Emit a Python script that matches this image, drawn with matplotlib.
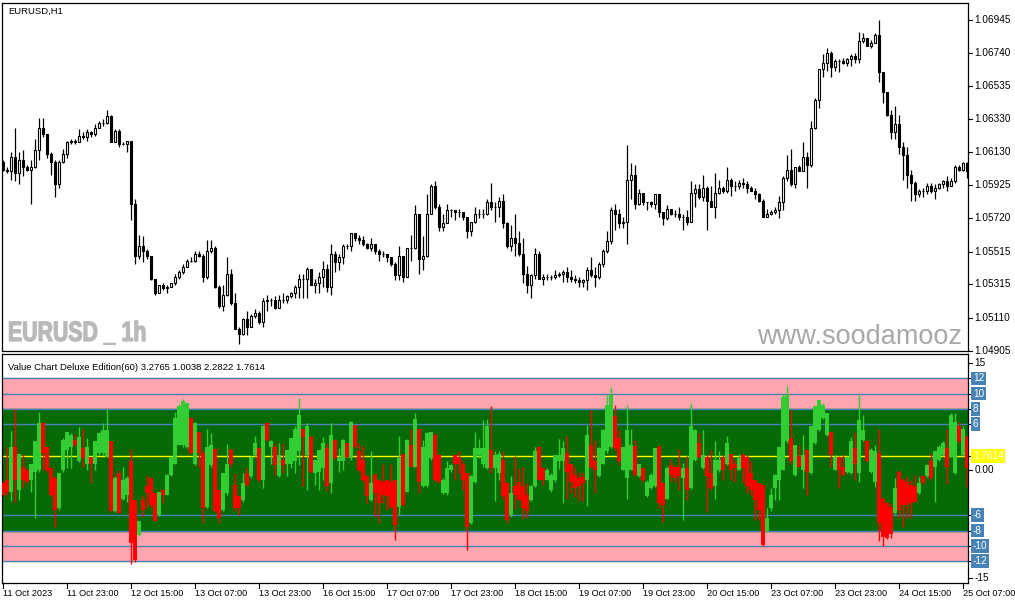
#!/usr/bin/env python3
"""
EURUSD H1 candles with the Value Chart Deluxe indicator underneath (MT4 look).
"""

import matplotlib

matplotlib.use("Agg")
import matplotlib.pyplot as plt
import matplotlib.transforms as mtransforms
import numpy as np
from matplotlib.font_manager import FontProperties
from matplotlib.patches import PathPatch
from matplotlib.textpath import TextPath

# ---- price bars, 11 Oct 07:00 -> 25 Oct 08:00 (open = previous close) ----
first_open = 1.0607

close = [
    1.0602, 1.0601, 1.0610, 1.0600, 1.0608, 1.0604, 1.0602, 1.0604, 1.0614, 1.0628,
    1.0624, 1.0612, 1.0607, 1.0593, 1.0607, 1.0612, 1.0619, 1.0620, 1.0619, 1.0623,
    1.0622, 1.0625, 1.0624, 1.0628, 1.0631, 1.0631, 1.0635, 1.0619, 1.0626, 1.0618,
    1.0618, 1.0620, 1.0581, 1.0549, 1.0555, 1.0552, 1.0549, 1.0535, 1.0526, 1.0531,
    1.0529, 1.0530, 1.0532, 1.0536, 1.0539, 1.0542, 1.0546, 1.0546, 1.0550, 1.0549,
    1.0536, 1.0552, 1.0554, 1.0530, 1.0518, 1.0525, 1.0538, 1.0520, 1.0504, 1.0501,
    1.0510,
    1.0505, 1.0512, 1.0514, 1.0508, 1.0521, 1.0522, 1.0522, 1.0517, 1.0522, 1.0522,
    1.0524, 1.0526, 1.0530, 1.0535, 1.0535, 1.0541, 1.0531, 1.0532, 1.0536, 1.0541,
    1.0530, 1.0550, 1.0545, 1.0548, 1.0555, 1.0555, 1.0563, 1.0560, 1.0559, 1.0556,
    1.0554, 1.0556, 1.0552, 1.0550, 1.0550, 1.0548, 1.0544, 1.0537, 1.0549, 1.0536,
    1.0554, 1.0554, 1.0575, 1.0547, 1.0549, 1.0575, 1.0592, 1.0579, 1.0567, 1.0569,
    1.0577, 1.0577, 1.0576, 1.0576, 1.0573, 1.0564, 1.0570, 1.0575, 1.0575, 1.0575,
    1.0582, 1.0579, 1.0579, 1.0583, 1.0569, 1.0555, 1.0560, 1.0557, 1.0550, 1.0538,
    1.0531, 1.0537, 1.0550, 1.0535, 1.0536, 1.0536, 1.0536, 1.0537, 1.0538, 1.0539,
    1.0536, 1.0535, 1.0534, 1.0533, 1.0534, 1.0540, 1.0537, 1.0536, 1.0544, 1.0552,
    1.0558, 1.0577, 1.0575, 1.0569, 1.0570, 1.0596, 1.0599, 1.0581, 1.0588, 1.0582,
    1.0582, 1.0581, 1.0587, 1.0576, 1.0572, 1.0578, 1.0575, 1.0575, 1.0573, 1.0573,
    1.0570, 1.0588, 1.0590, 1.0585, 1.0591, 1.0583, 1.0579, 1.0588, 1.0591, 1.0589,
    1.0596, 1.0592, 1.0592, 1.0594, 1.0593, 1.0591, 1.0589, 1.0587, 1.0583, 1.0573,
    1.0575, 1.0576, 1.0577, 1.0582, 1.0597, 1.0602, 1.0593, 1.0604, 1.0601, 1.0610,
    1.0605, 1.0628, 1.0645, 1.0664, 1.0668, 1.0674, 1.0665, 1.0669, 1.0669, 1.0668,
    1.0670, 1.0672, 1.0670, 1.0681, 1.0683, 1.0678, 1.0680, 1.0685, 1.0662, 1.0650,
    1.0636, 1.0625, 1.0630, 1.0616, 1.0611, 1.0599, 1.0594, 1.0587, 1.0589, 1.0589,
    1.0592, 1.0589, 1.0591, 1.0593, 1.0595, 1.0592, 1.0595, 1.0604, 1.0602, 1.0606,
    1.0601,
]

high = [
    1.0608, 1.0604, 1.0613, 1.0628, 1.0613, 1.0614, 1.0605, 1.0608, 1.0621, 1.0634,
    1.0634, 1.0624, 1.0613, 1.0608, 1.0608, 1.0615, 1.0620, 1.0621, 1.0621, 1.0627,
    1.0625, 1.0627, 1.0626, 1.0630, 1.0632, 1.0633, 1.0639, 1.0636, 1.0627, 1.0627,
    1.0619, 1.0620, 1.0620, 1.0584, 1.0562, 1.0561, 1.0553, 1.0549, 1.0535, 1.0531,
    1.0532, 1.0531, 1.0532, 1.0538, 1.0540, 1.0544, 1.0547, 1.0548, 1.0552, 1.0552,
    1.0550, 1.0559, 1.0559, 1.0555, 1.0531, 1.0531, 1.0548, 1.0541, 1.0526, 1.0505,
    1.0511,
    1.0515, 1.0513, 1.0516, 1.0515, 1.0523, 1.0525, 1.0523, 1.0524, 1.0525, 1.0526,
    1.0525, 1.0527, 1.0531, 1.0538, 1.0538, 1.0542, 1.0541, 1.0535, 1.0539, 1.0546,
    1.0544, 1.0556, 1.0552, 1.0550, 1.0556, 1.0556, 1.0563, 1.0563, 1.0562, 1.0561,
    1.0557, 1.0560, 1.0556, 1.0553, 1.0552, 1.0550, 1.0548, 1.0545, 1.0555, 1.0549,
    1.0554, 1.0562, 1.0580, 1.0575, 1.0561, 1.0587, 1.0593, 1.0595, 1.0581, 1.0575,
    1.0581, 1.0578, 1.0577, 1.0578, 1.0576, 1.0573, 1.0570, 1.0579, 1.0578, 1.0578,
    1.0584, 1.0594, 1.0582, 1.0585, 1.0587, 1.0570, 1.0568, 1.0575, 1.0564, 1.0560,
    1.0543, 1.0538, 1.0554, 1.0552, 1.0538, 1.0538, 1.0537, 1.0540, 1.0539, 1.0540,
    1.0542, 1.0540, 1.0537, 1.0536, 1.0535, 1.0542, 1.0548, 1.0542, 1.0545, 1.0553,
    1.0564, 1.0579, 1.0581, 1.0578, 1.0573, 1.0617, 1.0606, 1.0605, 1.0590, 1.0588,
    1.0582, 1.0583, 1.0587, 1.0587, 1.0576, 1.0580, 1.0578, 1.0577, 1.0579, 1.0575,
    1.0577, 1.0595, 1.0593, 1.0593, 1.0599, 1.0592, 1.0592, 1.0600, 1.0596, 1.0592,
    1.0604, 1.0597, 1.0595, 1.0596, 1.0597, 1.0595, 1.0592, 1.0591, 1.0588, 1.0584,
    1.0578, 1.0577, 1.0579, 1.0586, 1.0598, 1.0611, 1.0615, 1.0604, 1.0605, 1.0619,
    1.0613, 1.0632, 1.0646, 1.0664, 1.0673, 1.0677, 1.0675, 1.0670, 1.0670, 1.0671,
    1.0671, 1.0673, 1.0674, 1.0687, 1.0686, 1.0683, 1.0682, 1.0686, 1.0694, 1.0662,
    1.0650, 1.0639, 1.0641, 1.0636, 1.0619, 1.0616, 1.0602, 1.0595, 1.0590, 1.0591,
    1.0594, 1.0594, 1.0593, 1.0594, 1.0596, 1.0598, 1.0597, 1.0605, 1.0605, 1.0607,
    1.0607,
]

low = [
    1.0601, 1.0600, 1.0596, 1.0595, 1.0593, 1.0598, 1.0601, 1.0581, 1.0603, 1.0608,
    1.0622, 1.0609, 1.0599, 1.0585, 1.0591, 1.0606, 1.0609, 1.0618, 1.0618, 1.0619,
    1.0621, 1.0620, 1.0622, 1.0623, 1.0628, 1.0629, 1.0630, 1.0619, 1.0619, 1.0616,
    1.0617, 1.0613, 1.0571, 1.0544, 1.0547, 1.0545, 1.0547, 1.0534, 1.0525, 1.0527,
    1.0528, 1.0526, 1.0530, 1.0531, 1.0535, 1.0538, 1.0542, 1.0545, 1.0545, 1.0548,
    1.0533, 1.0535, 1.0551, 1.0529, 1.0517, 1.0515, 1.0524, 1.0519, 1.0504, 1.0495,
    1.0500,
    1.0500, 1.0505, 1.0511, 1.0507, 1.0505, 1.0515, 1.0518, 1.0516, 1.0517, 1.0520,
    1.0520, 1.0523, 1.0523, 1.0523, 1.0523, 1.0523, 1.0531, 1.0526, 1.0526, 1.0530,
    1.0527, 1.0525, 1.0539, 1.0540, 1.0544, 1.0553, 1.0552, 1.0558, 1.0556, 1.0555,
    1.0553, 1.0552, 1.0550, 1.0546, 1.0548, 1.0545, 1.0543, 1.0534, 1.0534, 1.0533,
    1.0536, 1.0546, 1.0553, 1.0538, 1.0540, 1.0548, 1.0575, 1.0578, 1.0564, 1.0564,
    1.0569, 1.0573, 1.0571, 1.0573, 1.0571, 1.0560, 1.0561, 1.0569, 1.0572, 1.0572,
    1.0574, 1.0577, 1.0570, 1.0573, 1.0566, 1.0554, 1.0552, 1.0549, 1.0549, 1.0532,
    1.0526, 1.0523, 1.0535, 1.0535, 1.0531, 1.0534, 1.0534, 1.0535, 1.0536, 1.0533,
    1.0533, 1.0533, 1.0532, 1.0530, 1.0530, 1.0528, 1.0536, 1.0530, 1.0535, 1.0542,
    1.0551, 1.0556, 1.0565, 1.0566, 1.0566, 1.0556, 1.0584, 1.0578, 1.0580, 1.0580,
    1.0577, 1.0579, 1.0578, 1.0573, 1.0568, 1.0571, 1.0574, 1.0573, 1.0571, 1.0565,
    1.0568, 1.0570, 1.0579, 1.0584, 1.0583, 1.0565, 1.0579, 1.0572, 1.0587, 1.0588,
    1.0588, 1.0586, 1.0589, 1.0590, 1.0591, 1.0588, 1.0589, 1.0584, 1.0582, 1.0573,
    1.0573, 1.0574, 1.0575, 1.0572, 1.0577, 1.0595, 1.0592, 1.0591, 1.0601, 1.0601,
    1.0591, 1.0604, 1.0627, 1.0640, 1.0659, 1.0663, 1.0659, 1.0663, 1.0662, 1.0667,
    1.0666, 1.0666, 1.0668, 1.0668, 1.0680, 1.0678, 1.0677, 1.0680, 1.0656, 1.0643,
    1.0635, 1.0621, 1.0621, 1.0612, 1.0596, 1.0591, 1.0583, 1.0583, 1.0585, 1.0585,
    1.0587, 1.0588, 1.0584, 1.0590, 1.0591, 1.0589, 1.0592, 1.0594, 1.0601, 1.0601,
    1.0597,
]

# ---- Value Chart Deluxe bars ----
vc_open = [
    -1.8, -1.3, -2.9, 3.0, -2.7, 0.4, 0.0, -1.3, -0.3, 0.0,
    6.1, 3.0, 0.2, -1.1, -5.1, 0.0, 2.6, 3.0, 3.9, 1.1,
    2.8, 0.8, 1.6, 0.8, 2.2, 2.2, 1.7, 3.7, -5.5, -0.5,
    -3.8, -3.3, 1.1, -4.0, -8.6, -4.0, -2.2, -1.1, -3.1, -6.0,
    -2.7, -3.3, -0.7, 0.8, 3.3, 3.3, 3.0, 6.8, 0.8, 4.9,
    2.2, -4.9, 0.6, 2.7, -2.7, -5.3, -3.1, 2.6, -2.0, -3.5,
    -4.0,
    -0.5, -0.9, 1.9, 2.8, -1.3, 6.1, 3.0, 3.0, -0.9, 1.3,
    0.8, 0.8, 1.1, 2.4, 5.4, 1.9, 4.3, -0.5, -0.3, 0.2,
    2.8, -1.8, 3.9, 1.1, 1.1, 3.5, 1.5, 5.9, 2.4, 1.3,
    -0.9, -4.0, -0.7, -1.3, -1.6, -1.3, -1.6, -1.3, -4.9, 2.1,
    -2.9, 3.3, 0.4, 5.3, -2.2, -2.2, 1.5, 4.6, 1.9, -3.1,
    -3.1, 0.0, 1.9, 1.7, 0.8, -0.5, -7.0, -1.6, 1.9, 0.8,
    0.2, 2.6, 0.2, -0.5, 1.3, -1.8, -6.0, -2.1, -1.6, -2.2,
    -3.3, -4.0, -2.2, 3.0, 0.2, -1.3, -2.7, -1.3, 1.1, 1.1,
    2.2, 0.8, -0.7, -1.1, -1.0, -1.3, 3.3, 1.1, -0.9, 0.8,
    2.4, 3.0, 7.0, 4.1, 0.0, -1.1, 0.0, 3.1, -0.9, 0.2,
    -3.5, -2.4, -2.2, 3.0, -1.8, -3.8, 0.6, 0.4, 0.3, -1.1,
    0.2, -2.4, 1.3, 3.5, 0.2, 1.7, -0.5, -2.2, 0.0, 1.6,
    0.8, 2.1, 0.8, 0.0, 1.9, 1.7, -0.5, -1.3, -1.8, -2.0,
    -8.1, -5.1, -2.4, -1.3, 0.0, 3.7, 4.1, -0.7, 1.8, 0.0,
    2.6, -0.5, 3.5, 5.2, 6.8, 4.6, 5.0, 0.0, 1.7, 0.4,
    -0.3, -0.5, 2.8, -0.5, 3.9, 3.7, -0.3, -1.6, 2.2, -3.8,
    -4.4, -4.9, -5.7, -0.3, -1.3, -1.6, -2.0, -2.2, -3.1, -0.9,
    -0.9, 1.1, 0.4, 1.3, 1.9, 2.8, 1.7, -0.5, 5.7, 1.9,
    4.3,
]

vc_close = [
    -3.3, -2.9, 3.0, -1.3, 2.1, -1.3, -1.6, 0.8, 3.7, 6.1,
    2.2, 0.0, -3.3, -5.3, -0.5, 3.9, 4.9, 4.6, 3.3, 4.3,
    1.5, 3.0, 0.8, 3.7, 4.8, 5.2, 5.2, -5.5, -1.1, -5.7,
    -1.3, -1.1, -9.7, -11.9, -6.8, -5.3, -3.1, -4.6, -6.8, -2.9,
    -3.3, -0.7, 1.7, 6.8, 8.3, 9.0, 8.7, 2.2, 6.1, 2.2,
    -5.1, 3.0, 3.3, -5.5, -6.4, -0.5, 0.8, 0.8, -5.1, -5.1,
    -1.8,
    -2.0, 1.7, 3.5, -1.3, 5.7, 3.9, 3.7, 0.6, 1.9, 0.6,
    2.6, 4.1, 5.4, 7.2, 4.3, 5.7, -0.3, 1.3, 2.6, 3.5,
    -2.2, 4.6, 1.5, 1.5, 3.9, 1.7, 6.3, 3.0, 0.0, -1.3,
    -3.5, -1.8, -3.1, -4.4, -3.3, -3.5, -4.9, -7.3, 1.5, -4.6,
    3.9, 0.4, 6.6, -1.6, 3.0, 4.8, 5.0, -1.3, -1.6, -1.3,
    0.2, 0.6, 0.8, 0.8, -1.3, -7.5, -0.9, 2.8, 2.8, 2.8,
    5.7, 0.2, 1.9, 2.1, -3.5, -6.6, -3.1, -3.3, -4.0, -5.1,
    -5.5, -2.2, 2.4, -1.3, -1.3, 0.0, -0.7, 1.9, 1.9, 2.8,
    -0.3, -1.6, -2.4, -2.2, -1.8, 4.6, 0.4, 0.0, 2.8, 5.2,
    8.5, 9.8, 2.8, 1.1, 3.0, 5.2, 3.3, -0.7, 0.8, -1.3,
    -1.6, -0.7, 2.8, -4.4, -4.6, 0.2, -0.7, -1.1, -0.9, 0.2,
    -2.7, 5.7, 5.2, 1.7, 1.9, -0.9, -2.4, 1.3, 1.3, 0.0,
    3.5, 0.0, 0.2, 1.5, 0.2, -2.2, -2.7, -4.0, -5.3, -9.9,
    -6.4, -3.3, -0.7, 3.0, 9.6, 9.8, 1.1, 3.3, 0.4, 1.9,
    -0.3, 5.7, 8.3, 9.1, 8.5, 7.4, 1.9, 1.7, 0.0, -0.7,
    1.7, 3.7, 0.8, 6.5, 5.2, 1.1, 2.6, 2.4, -7.0, -8.8,
    -9.0, -8.4, -2.4, -5.3, -4.6, -4.6, -4.4, -4.2, -1.8, -1.8,
    0.6, -1.1, 2.4, 3.0, 3.5, 0.4, 7.2, 6.3, 3.7, 5.4,
    0.2,
]

vc_high = [
    -1.6, 3.0, 5.1, 8.0, 2.1, 2.1, 0.2, 0.8, 3.7, 7.6,
    6.3, 3.0, 0.4, -0.9, -0.4, 4.1, 5.0, 4.8, 4.7, 5.6,
    5.4, 4.1, 1.6, 3.7, 5.0, 6.1, 8.0, 3.7, -0.9, 0.0,
    0.3, -0.9, 2.7, -4.0, -6.8, -3.3, -0.7, -1.0, -3.1, -2.9,
    -2.6, -0.6, 1.8, 7.6, 8.6, 9.3, 8.8, 6.9, 6.3, 5.0,
    2.6, 5.3, 4.8, 2.8, -2.7, -0.5, 3.4, 2.8, -0.5, -3.3,
    -0.5,
    0.3, 1.8, 4.4, 3.0, 5.9, 6.2, 3.9, 3.5, 3.5, 3.5,
    2.6, 4.1, 5.7, 9.4, 5.4, 6.1, 4.4, 1.3, 2.6, 4.3,
    3.5, 6.1, 4.0, 2.8, 4.0, 3.5, 6.4, 5.9, 3.5, 3.1,
    -0.7, 2.4, -0.5, -1.3, 0.8, -1.3, 0.7, -1.3, 4.4, 2.2,
    4.0, 5.3, 7.5, 5.3, 3.9, 4.9, 5.0, 4.8, 2.1, -1.1,
    1.2, 0.8, 2.1, 2.4, 1.1, -0.4, -0.7, 5.0, 4.0, 6.5,
    6.6, 8.4, 2.5, 2.5, 2.4, -1.6, -0.9, 1.8, 0.2, 0.4,
    -1.8, -2.0, 3.0, 3.1, 0.4, 0.2, -0.5, 1.9, 4.0, 3.7,
    4.4, 0.8, 0.3, -0.3, -0.3, 5.9, 7.9, 3.9, 3.0, 5.4,
    9.8, 10.8, 8.5, 5.2, 3.0, 8.5, 5.3, 3.9, 0.8, 0.4,
    -1.3, -0.5, 2.9, 3.3, -1.6, 0.5, 1.4, 0.6, 2.7, 0.9,
    1.8, 8.7, 5.4, 4.8, 5.2, 1.9, 2.6, 3.7, 2.4, 1.9,
    4.4, 2.1, 1.3, 2.1, 2.2, 1.9, 1.1, -1.3, -1.8, -1.9,
    -5.1, -2.4, -0.6, 3.0, 10.0, 11.0, 7.9, 3.3, 3.3, 4.6,
    2.7, 5.8, 8.4, 9.2, 8.7, 7.5, 5.0, 1.9, 1.8, 1.9,
    1.8, 4.3, 5.0, 9.8, 7.2, 3.9, 2.8, 3.3, 5.4, -3.6,
    -4.2, -4.4, -1.1, 0.0, -1.1, -0.9, -1.3, -0.7, -1.0, -0.7,
    0.8, 2.2, 2.5, 3.3, 3.7, 5.4, 7.4, 7.4, 6.3, 5.7,
    4.6,
]

vc_low = [
    -3.5, -3.5, -4.1, -4.3, -4.0, -2.4, -1.8, -2.9, -6.4, -0.3,
    0.0, -0.3, -3.5, -7.5, -5.3, -0.3, 0.2, 0.2, 3.0, 1.0,
    0.3, 0.0, -1.8, 0.0, 1.9, 1.9, 1.7, -5.6, -5.6, -5.7,
    -4.0, -4.3, -12.4, -12.1, -8.7, -6.2, -5.1, -4.9, -6.8, -6.1,
    -4.4, -3.3, -0.8, 0.8, 3.3, 3.0, 2.8, 2.1, 0.6, 0.4,
    -7.0, -5.1, 0.4, -5.6, -7.0, -5.5, -3.3, 0.4, -5.5, -6.0,
    -4.2,
    -2.2, -1.1, 1.7, -1.6, -2.4, 3.8, 0.8, -0.7, -1.0, -0.5,
    -0.9, 0.2, -0.5, 0.6, -2.2, -2.7, -0.4, -2.0, -2.7, -1.3,
    -2.8, -3.1, 1.3, -0.3, 0.0, 1.5, 1.3, 2.8, -0.3, -1.6,
    -4.4, -4.1, -6.2, -7.0, -4.4, -5.3, -5.1, -9.2, -6.0, -4.8,
    -3.0, 0.3, 0.3, -3.1, -2.3, -2.3, 1.3, -1.6, -1.8, -3.2,
    -3.3, -0.3, -1.3, -0.5, -2.7, -10.5, -7.1, -1.7, 1.5, 0.3,
    0.1, -0.5, -4.1, -1.3, -3.8, -7.0, -6.2, -5.2, -4.0, -6.3,
    -6.4, -4.1, -2.3, -1.4, -2.0, -1.4, -3.0, -1.6, 0.1, -4.4,
    -3.8, -3.1, -3.6, -4.1, -4.1, -4.8, 0.2, -3.1, -1.0, 0.7,
    2.2, 2.8, 2.6, 0.6, -0.1, -3.8, -0.1, -0.9, -1.0, -1.6,
    -3.6, -2.6, -2.3, -5.1, -6.9, -3.9, -1.6, -1.6, -2.7, -6.6,
    -4.0, -2.6, 1.1, 1.5, 0.1, -5.6, -2.7, -3.8, -0.3, -1.3,
    0.6, -1.3, -1.6, -0.1, -1.6, -3.1, -3.3, -6.6, -6.6, -10.0,
    -8.2, -5.5, -4.0, -4.0, -0.1, 3.5, 0.8, -0.9, 0.3, -2.4,
    -3.3, -0.6, 3.4, 5.1, 6.6, 4.4, 0.3, -0.1, -2.4, -0.8,
    -0.5, -0.6, -1.3, -1.6, 3.8, 1.0, -0.4, -2.3, -9.4, -10.1,
    -9.1, -9.0, -5.8, -6.4, -7.6, -6.4, -6.4, -4.3, -3.2, -1.9,
    -1.0, -1.3, -4.2, 1.2, 1.8, -1.9, 1.6, -0.6, 3.5, 1.8,
    -2.3,
]

vc_last = 1.7614
vc_title = "Value Chart Deluxe Edition(60) 3.2765 1.0038 2.2822 1.7614"

price_ticks = [1.06945, 1.06740, 1.06535, 1.06330, 1.06130, 1.05925,
               1.05720, 1.05515, 1.05315, 1.05110, 1.04905]
vc_levels = [12, 10, 8, 6, -6, -8, -10, -12]

time_labels = [
    "11 Oct 2023", "11 Oct 23:00", "12 Oct 15:00", "13 Oct 07:00",
    "13 Oct 23:00", "16 Oct 15:00", "17 Oct 07:00", "17 Oct 23:00",
    "18 Oct 15:00", "19 Oct 07:00", "19 Oct 23:00", "20 Oct 15:00",
    "23 Oct 07:00", "23 Oct 23:00", "24 Oct 15:00", "25 Oct 07:00",
]
label_step = 16

FONT = ["Liberation Sans", "DejaVu Sans"]
STEEL = "#4682B4"


def right_label(ax, y, text, box=None, color="black"):
    trans = mtransforms.blended_transform_factory(ax.transAxes, ax.transData)
    ax.plot([1.0, 1.004], [y, y], color="black", lw=0.8, transform=trans, clip_on=False)
    kw = {}
    xpos = 1.007
    if box is not None:
        kw["bbox"] = dict(boxstyle="square,pad=0.18", fc=box, ec="none")
        xpos = 1.005
    ax.text(xpos, y, text, transform=trans, ha="left", va="center",
            fontsize=7.2, family=FONT, color=color, clip_on=False, **kw)


def draw_candles(ax, x, o, h, l, c):
    ax.vlines(x, l, h, color="black", lw=0.9, zorder=2)
    up = c >= o
    ax.bar(x[up], (c - o)[up], bottom=o[up], width=0.55, color="white",
           edgecolor="black", lw=0.8, zorder=3)
    ax.bar(x[~up], (c - o)[~up], bottom=o[~up], width=0.55, color="black",
           edgecolor="black", lw=0.8, zorder=3)


def draw_value_chart(ax, x, o, h, l, c):
    # bands and level lines
    ax.axhspan(8, 12, color="#FFA5AF", zorder=0)
    ax.axhspan(-12, -8, color="#FFA5AF", zorder=0)
    ax.axhspan(-8, 8, color="#066A06", zorder=0)
    for lv in vc_levels:
        ax.axhline(lv, color=STEEL, lw=1.0, zorder=1)
    ax.axhline(vc_last, color="#FFFF00", lw=1.0, zorder=1)

    up = c > o
    colors = np.where(up, "#32CD32", "#FF0000")
    ax.vlines(x, l, h, colors=colors, lw=1.0, zorder=2)
    ax.bar(x, c - o, bottom=o, width=0.95, color=colors, lw=0, zorder=3)


def add_watermark(ax):
    # condensed bold "EURUSD _ 1h" in the lower left of the price panel
    tp = TextPath((0, 0), "EURUSD _ 1h", size=28,
                  prop=FontProperties(family="Liberation Sans", weight="bold"))
    tr = mtransforms.Affine2D().scale(0.76, 1.0).translate(8, 605 - 341)
    patch = PathPatch(tp, facecolor="#B9B9B9", edgecolor="#B9B9B9", lw=0.9, zorder=1)
    patch.set_transform(tr)
    ax.add_artist(patch)


def main():
    o_c = np.array(close)
    o_h = np.array(high)
    o_l = np.array(low)
    o_o = np.concatenate([[first_open], o_c[:-1]])
    o_h = np.maximum(o_h, np.maximum(o_o, o_c))
    o_l = np.minimum(o_l, np.minimum(o_o, o_c))
    x = np.arange(1, len(o_c) + 1)

    fig = plt.figure(figsize=(10.15, 6.05), dpi=100)
    fig.patch.set_facecolor("white")
    ax = fig.add_axes([2 / 1015, (605 - 351) / 605, 966 / 1015, 348 / 605])
    axv = fig.add_axes([2 / 1015, (605 - 583) / 605, 966 / 1015, 229 / 605])

    for a in (ax, axv):
        a.set_xlim(0.75, 242.25)
        a.set_xticks([])
        a.set_yticks([])
        for s in a.spines.values():
            s.set_color("black")
            s.set_linewidth(0.9)

    # --- price panel ---
    ax.set_ylim(1.04904, 1.07047)
    draw_candles(ax, x, o_o, o_h, o_l, o_c)
    for p in price_ticks:
        right_label(ax, p, f"{p:.5f}")
    ax.text(0.006, 0.975, "EURUSD,H1", transform=ax.transAxes, ha="left", va="center",
            fontsize=6.8, family=FONT)
    add_watermark(ax)
    ax.text(0.782, 0.04, "www.soodamooz", transform=ax.transAxes, ha="left", va="center",
            fontsize=19.5, color="#A8A8A8", family=FONT, zorder=1)

    # --- indicator panel ---
    axv.set_ylim(-14.9, 15.2)
    draw_value_chart(axv, x, np.array(vc_open), np.array(vc_high),
                     np.array(vc_low), np.array(vc_close))
    right_label(axv, 14.0, "15")
    for lv in vc_levels:
        right_label(axv, lv, str(lv), box=STEEL, color="white")
    right_label(axv, vc_last, f"{vc_last:.4f}", box="#FFFF00", color="white")
    right_label(axv, 0.0, "0.00")
    right_label(axv, -14.3, "-15")
    axv.text(0.006, 0.94, vc_title, transform=axv.transAxes, ha="left", va="center",
             fontsize=6.8, family=FONT)

    # --- time axis ---
    trans = mtransforms.blended_transform_factory(axv.transData, axv.transAxes)
    for i, lab in enumerate(time_labels):
        bx = 1 + i * label_step
        axv.plot([bx, bx], [0, -0.02], color="black", lw=0.8, transform=trans, clip_on=False)
        axv.text(bx - 0.1, -0.025, lab, transform=trans, ha="left", va="top",
                 fontsize=6.6, family=FONT, clip_on=False)

    fig.savefig("out.png", dpi=100, facecolor="white")
    plt.close(fig)


if __name__ == "__main__":
    main()
